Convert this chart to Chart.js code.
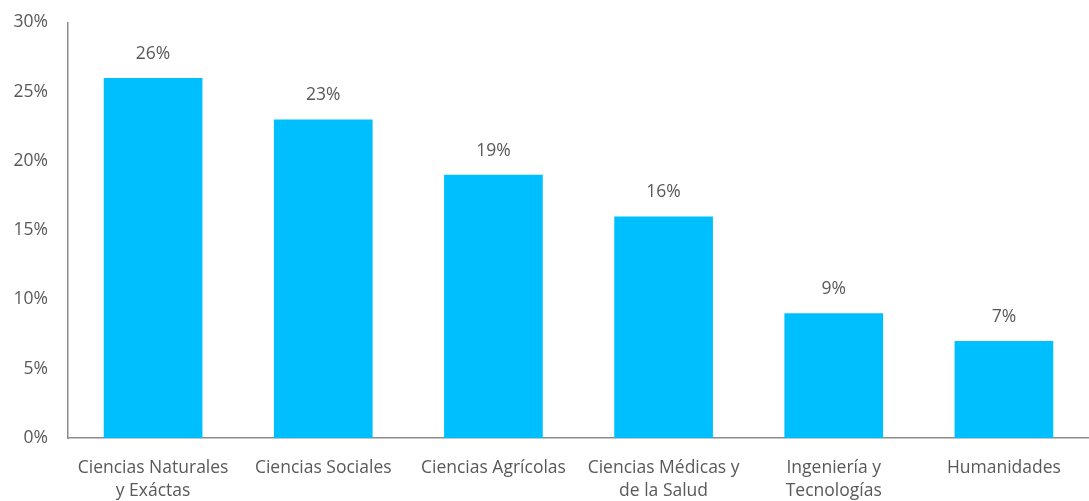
<!DOCTYPE html>
<html>
<head>
<meta charset="utf-8">
<script src="https://cdn.jsdelivr.net/npm/chart.js@4"></script>
<style>
  html, body { margin: 0; padding: 0; background: #fff; }
  #wrap { width: 1089px; height: 501px; }
</style>
</head>
<body>
<div id="wrap"><canvas id="areaGraph"></canvas></div>
<script>
const categories = [
    ['Ciencias Naturales', 'y Exáctas'],
    'Ciencias Sociales',
    'Ciencias Agrícolas',
    ['Ciencias Médicas y', 'de la Salud'],
    ['Ingeniería y', 'Tecnologías'],
    'Humanidades'
]
const percents = [26, 23, 19, 16, 9, 7]
const yTicks = [0, 5, 10, 15, 20, 25, 30]

const textColor = '#595959'
const fontFamily = "'Open Sans', sans-serif"

// labels over each bar, like Excel data labels
const barLabels = {
    id: 'barLabels',
    afterDatasetsDraw(chart){
        const ctx = chart.ctx
        const meta = chart.getDatasetMeta(0)
        ctx.save()
        ctx.font = `17.5px ${fontFamily}`
        ctx.fillStyle = textColor
        ctx.textAlign = 'center'
        ctx.textBaseline = 'middle'
        meta.data.forEach((bar, i)=>{
            ctx.fillText(`${percents[i]}%`, bar.x, bar.y - 24)
        })
        ctx.restore()
    }
}

const areaGraph = document.querySelector('#areaGraph')
const myChart = new Chart(areaGraph, {
    type: 'bar',
    data: {
        labels: categories,
        datasets: [{
            label: 'porcentaje',
            data: percents,
            backgroundColor: '#00BFFF',
            categoryPercentage: 1,
            barPercentage: 0.58
        }]
    },
    options: {
        responsive: true,
        maintainAspectRatio: false,
        animation: false,
        layout: {
            padding: { top: 4, left: 0, right: 0, bottom: 0 }
        },
        plugins: {
            legend: { display: false },
            tooltip: { enabled: false }
        },
        scales: {
            x: {
                afterFit(axis){
                    axis.height = 63
                },
                grid: { display: false },
                border: { display: true, color: '#8c8c8c', width: 1.5 },
                ticks: {
                    color: textColor,
                    font: { family: fontFamily, size: 17.5, lineHeight: 1.35 },
                    maxRotation: 0,
                    autoSkip: false,
                    padding: 10
                }
            },
            y: {
                min: 0,
                max: 30,
                afterBuildTicks(axis){
                    axis.ticks = yTicks.map(v => ({ value: v }))
                },
                afterFit(axis){
                    axis.width = 68
                },
                grid: { display: false },
                border: { display: true, color: '#8c8c8c', width: 1.5 },
                ticks: {
                    color: textColor,
                    font: { family: fontFamily, size: 17.5 },
                    padding: 12,
                    callback: v => `${v}%`
                }
            }
        }
    },
    plugins: [barLabels]
})
</script>
</body>
</html>
